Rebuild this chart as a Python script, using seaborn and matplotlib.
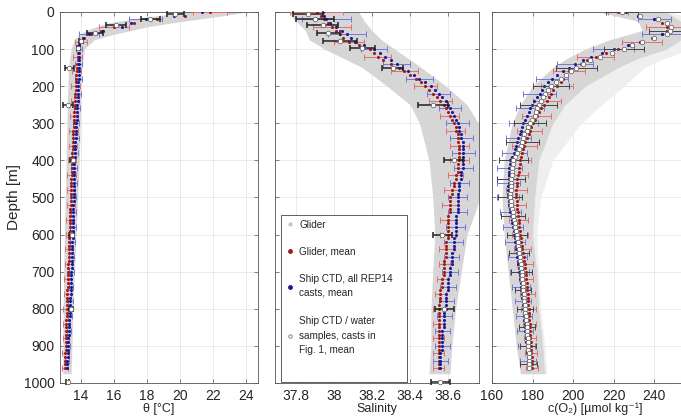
"""
Glider vs ship CTD profiles: potential temperature, salinity and oxygen.
"""

import matplotlib

matplotlib.use("Agg")
import matplotlib.pyplot as plt
import seaborn as sns
from matplotlib.lines import Line2D
from matplotlib.patches import Rectangle
from matplotlib.ticker import FuncFormatter

# ---------------------------------------------------------------- data
# 10 m depth bins of the mean profiles
depth = list(range(0, 970, 10))

temp_glider = [
    21.8, 20.3, 18.6, 17.2, 16.0, 15.2, 14.6, 14.2, 14.0, 13.9, 13.85,
    13.83, 13.81, 13.79, 13.77, 13.76, 13.74, 13.72, 13.71, 13.69, 13.68,
    13.67, 13.66, 13.64, 13.63, 13.62, 13.61, 13.60, 13.58, 13.57, 13.56,
    13.55, 13.54, 13.53, 13.52, 13.51, 13.50, 13.49, 13.48, 13.47, 13.46,
    13.45, 13.44, 13.44, 13.43, 13.42, 13.41, 13.40, 13.40, 13.39, 13.38,
    13.37, 13.37, 13.36, 13.35, 13.35, 13.34, 13.33, 13.33, 13.32, 13.31,
    13.30, 13.29, 13.28, 13.27, 13.27, 13.26, 13.25, 13.24, 13.23, 13.22,
    13.21, 13.20, 13.20, 13.19, 13.18, 13.17, 13.16, 13.16, 13.15, 13.14,
    13.13, 13.13, 13.12, 13.11, 13.11, 13.10, 13.09, 13.09, 13.08, 13.07,
    13.07, 13.06, 13.05, 13.05, 13.04, 13.03,
]
temp_ctd = [
    21.3, 19.6, 17.9, 17.0, 16.5, 15.3, 14.5, 14.1, 13.95, 13.9, 13.88,
    13.88, 13.87, 13.87, 13.86, 13.86, 13.86, 13.85, 13.85, 13.84, 13.84,
    13.83, 13.82, 13.80, 13.79, 13.78, 13.77, 13.76, 13.74, 13.73, 13.72,
    13.71, 13.70, 13.68, 13.67, 13.66, 13.65, 13.64, 13.62, 13.61, 13.60,
    13.60, 13.59, 13.59, 13.58, 13.58, 13.57, 13.57, 13.56, 13.56, 13.55,
    13.55, 13.54, 13.54, 13.53, 13.53, 13.52, 13.52, 13.51, 13.51, 13.50,
    13.49, 13.48, 13.48, 13.47, 13.46, 13.45, 13.44, 13.44, 13.43, 13.42,
    13.41, 13.40, 13.40, 13.39, 13.38, 13.37, 13.36, 13.36, 13.35, 13.34,
    13.33, 13.32, 13.30, 13.29, 13.28, 13.27, 13.26, 13.24, 13.23, 13.22,
    13.21, 13.20, 13.19, 13.18, 13.16, 13.15,
]
temp_glider_sd = [1.0, 0.9, 0.35, 0.28, 0.27, 0.27, 0.26, 0.26, 0.26, 0.25,
                  0.25, 0.25, 0.24, 0.24, 0.24, 0.23, 0.23, 0.22, 0.22, 0.22,
                  0.21, 0.21, 0.2, 0.2, 0.2]
temp_ctd_sd = [1.0, 0.6, 0.2, 0.2, 0.2, 0.19, 0.19, 0.18, 0.18, 0.18, 0.17,
               0.17, 0.16, 0.16, 0.16, 0.15, 0.15, 0.14, 0.14, 0.14, 0.13,
               0.13, 0.12, 0.12]
temp_env_depth = [0, 10, 20, 30, 40, 50, 60, 75, 100, 150, 200, 300, 400,
                  500, 600, 700, 800, 900, 975]
temp_env_lo = [20.4, 18.6, 16.9, 15.6, 14.9, 14.3, 13.9, 13.6, 13.4, 13.25,
               13.2, 13.15, 13.1, 13.05, 13.0, 12.95, 12.92, 12.9, 12.9]
temp_env_hi = [24.0, 22.6, 21.0, 19.4, 18.0, 17.0, 16.0, 14.8, 14.2, 14.05,
               14.0, 13.95, 13.9, 13.8, 13.7, 13.6, 13.5, 13.45, 13.4]

sal_glider = [
    37.91, 37.93, 37.95, 37.97, 37.99, 38.01, 38.03, 38.05, 38.08, 38.13, 38.19,
    38.21, 38.23, 38.26, 38.30, 38.34, 38.37, 38.40, 38.43, 38.46, 38.48,
    38.50, 38.52, 38.54, 38.56, 38.58, 38.59, 38.60, 38.61, 38.62, 38.63,
    38.64, 38.64, 38.65, 38.65, 38.65, 38.66, 38.66, 38.66, 38.66, 38.66,
    38.65, 38.65, 38.65, 38.64, 38.64, 38.63, 38.63, 38.62, 38.62, 38.61,
    38.61, 38.61, 38.61, 38.61, 38.60, 38.60, 38.60, 38.60, 38.60, 38.60,
    38.60, 38.59, 38.59, 38.59, 38.59, 38.59, 38.58, 38.58, 38.58, 38.58,
    38.58, 38.57, 38.57, 38.57, 38.56, 38.56, 38.56, 38.56, 38.55, 38.55,
    38.55, 38.55, 38.55, 38.55, 38.55, 38.55, 38.55, 38.55, 38.55, 38.55,
    38.55, 38.55, 38.55, 38.55, 38.55, 38.55,
]
sal_ctd = [
    37.94, 37.95, 37.96, 37.98, 38.01, 38.04, 38.07, 38.09, 38.11, 38.16, 38.21,
    38.24, 38.27, 38.30, 38.33, 38.36, 38.39, 38.42, 38.45, 38.48, 38.51,
    38.53, 38.55, 38.57, 38.59, 38.60, 38.61, 38.62, 38.63, 38.64, 38.65,
    38.66, 38.66, 38.67, 38.67, 38.68, 38.68, 38.68, 38.68, 38.68, 38.68,
    38.68, 38.68, 38.67, 38.67, 38.67, 38.66, 38.66, 38.66, 38.65, 38.65,
    38.65, 38.65, 38.65, 38.65, 38.64, 38.64, 38.64, 38.64, 38.64, 38.64,
    38.63, 38.63, 38.63, 38.63, 38.62, 38.62, 38.62, 38.62, 38.61, 38.61,
    38.61, 38.60, 38.60, 38.60, 38.60, 38.59, 38.59, 38.59, 38.59, 38.59,
    38.58, 38.58, 38.58, 38.58, 38.58, 38.57, 38.57, 38.57, 38.57, 38.57,
    38.57, 38.56, 38.56, 38.56, 38.56, 38.56,
]
sal_glider_sd = [0.14, 0.10, 0.08, 0.07, 0.07, 0.06, 0.06, 0.05, 0.05, 0.05,
                 0.05, 0.04, 0.04, 0.04, 0.04, 0.04, 0.04, 0.03, 0.03, 0.03,
                 0.03, 0.03, 0.03, 0.03, 0.03]
sal_ctd_sd = [0.13, 0.10, 0.07, 0.07, 0.07, 0.06, 0.06, 0.06, 0.06, 0.06,
              0.05, 0.05, 0.05, 0.05, 0.05, 0.05, 0.04, 0.04, 0.04, 0.04,
              0.04, 0.04, 0.04, 0.04]
sal_env_depth = [0, 25, 50, 75, 100, 150, 200, 250, 300, 400, 500, 600, 700,
                 800, 900, 975]
sal_env_lo = [37.76, 37.80, 37.85, 37.87, 37.95, 38.15, 38.28, 38.40, 38.45,
              38.50, 38.52, 38.53, 38.52, 38.51, 38.51, 38.50]
sal_env_hi = [38.13, 38.16, 38.20, 38.25, 38.32, 38.46, 38.59, 38.70, 38.76,
              38.80, 38.77, 38.70, 38.67, 38.64, 38.62, 38.61]

# ship CTD / water sample casts (Fig. 1)
sample_depth = [5, 18, 34, 56, 78, 98, 150, 250, 400, 600, 800, 998]
temp_sample = [19.7, 18.2, 16.1, 14.85, 14.0, 13.84, 13.3, 13.2, 13.5, 13.45,
               13.4, 13.2]
temp_sample_sd = [0.5, 0.6, 0.6, 0.5, 0.15, 0.1, 0.25, 0.3, 0.15, 0.15, 0.1,
                  0.1]
sal_sample = [37.865, 37.9, 37.94, 37.97, 38.03, 38.15, 38.31, 38.52, 38.63,
              38.57, 38.58, 38.56]
sal_sample_sd = [0.08, 0.1, 0.08, 0.06, 0.09, 0.065, 0.055, 0.08, 0.05, 0.05,
                 0.05, 0.05]

oxy_glider = [
    222, 232, 240, 244, 246, 246, 244, 239, 234, 228, 222,
    216, 211, 207, 204, 201, 198, 196, 195, 194, 192,
    190, 189, 188, 187, 185.5, 184, 183, 182, 181, 180,
    179, 178.5, 178, 177, 176.5, 176, 175.5, 175, 174.5, 174,
    173.7, 173.4, 173.1, 172.8, 172.5, 172.3, 172.1, 172, 172, 172,
    172.1, 172.3, 172.5, 172.7, 172.9, 173.1, 173.3, 173.5, 173.7, 173.8,
    174.1, 174.4, 174.7, 175, 175.3, 175.6, 175.9, 176.1, 176.4, 176.6,
    176.8, 176.9, 177.1, 177.2, 177.3, 177.5, 177.6, 177.7, 177.9, 178,
    178.1, 178.2, 178.4, 178.5, 178.6, 178.7, 178.8, 178.9, 179.1, 179.2,
    179.3, 179.4, 179.5, 179.6, 179.6, 179.7,
]
oxy_ctd = [
    226, 232, 240, 246, 248, 247, 244, 240, 233, 227, 220,
    214, 209, 205, 201, 198, 195, 192, 189.5, 187.5, 185.5,
    184.5, 183.5, 182, 180.5, 179.5, 178.8, 178, 177.3, 176.5, 175.5,
    174.8, 174.2, 173.6, 173, 172.5, 172, 171.5, 171, 170, 169,
    168.8, 168.6, 168.5, 168.4, 168.3, 168.2, 168.1, 168, 168, 168,
    168.2, 168.5, 168.8, 169.1, 169.4, 169.8, 170.1, 170.4, 170.7, 171,
    171.3, 171.5, 171.8, 172, 172.3, 172.5, 172.8, 173, 173.3, 173.5,
    173.7, 173.9, 174.1, 174.3, 174.5, 174.7, 174.9, 175.1, 175.3, 175.5,
    175.7, 175.8, 176, 176.1, 176.3, 176.4, 176.6, 176.7, 176.9, 177,
    177.2, 177.4, 177.5, 177.7, 177.8, 178,
]
oxy_sample = [
    224, 233, 242, 246, 248, 247.5, 246, 240, 234, 229, 225,
    219, 213, 208.5, 205, 201.5, 199, 196.5, 194, 191.5, 189,
    187.5, 186, 185, 184, 183, 182.3, 181.6, 181, 179.8, 178.6,
    177.8, 177, 176, 175.5, 175, 174.5, 173.5, 172.5, 171.5, 170.5,
    170.3, 170.1, 169.9, 169.7, 169.5, 169.4, 169.3, 169.2, 169.1, 169,
    169.3, 169.6, 169.9, 170.2, 170.5, 170.9, 171.2, 171.5, 171.8, 172.2,
    172.4, 172.7, 172.9, 173.1, 173.4, 173.6, 173.9, 174.1, 174.4, 174.6,
    174.8, 174.9, 175.1, 175.3, 175.4, 175.6, 175.8, 175.9, 176.1, 176.3,
    176.5, 176.6, 176.8, 177, 177.1, 177.3, 177.4, 177.6, 177.7, 177.9,
    177.9, 178, 178, 178, 178, 178,
]
oxy_glider_sd = [5, 10, 10, 9, 8, 8, 7, 7, 6, 6, 5, 5, 5, 4.5, 4.5, 4, 4, 4,
                 3.5, 3.5, 3.5, 3, 3, 3, 3]
oxy_ctd_sd = [8, 10, 10, 9, 8, 8, 7, 7, 6, 6, 6, 5.5, 5.5, 5, 5, 5, 4.5, 4.5,
              4.5, 4, 4, 4, 4, 4]
oxy_sample_sd = [8, 10, 10, 10, 9, 9, 8, 8, 7, 7, 6, 6, 5, 5, 5, 4, 4, 4, 4, 4]
oxy_env_depth = [0, 25, 50, 75, 100, 125, 150, 200, 250, 300, 400, 500, 600,
                 700, 800, 900, 975]
oxy_env_lo = [213, 232, 234, 218, 206, 197, 190, 180, 174, 170, 166, 165, 166,
              168, 170, 172, 174]
oxy_env_hi = [246, 253, 253, 253, 246, 232, 222, 206, 196, 190, 183, 181, 180,
              182, 183, 185, 186]
oxy_env_hi_outer = [248, 262, 262, 262, 258, 245, 235, 225, 214, 204, 190, 184,
                    182, 183, 184, 186, 187]

# ---------------------------------------------------------------- style
RED = "#a31a1a"
BLUE = "#1a1a9c"
RED_ERR = "#e07070"
BLUE_ERR = "#7777d8"
ENV = "#d6d6d6"

sns.set_theme(style="whitegrid")
plt.rcParams["font.family"] = ["Liberation Sans", "DejaVu Sans"]

W, H = 681, 416
fig = plt.figure(figsize=(W / 100, H / 100), dpi=100)
ax_t = fig.add_axes([60 / W, 33 / H, 198 / W, 371 / H])
ax_s = fig.add_axes([275 / W, 33 / H, 204 / W, 371 / H])
ax_o = fig.add_axes([492 / W, 33 / H, 206 / W, 371 / H])


def mean_profiles(ax, glider, ctd, glider_sd, ctd_sd):
    """Glider and ship CTD mean profiles with std bars."""
    ax.errorbar(glider[::4], depth[::4], xerr=glider_sd, fmt="none",
                ecolor=RED_ERR, elinewidth=0.7, capsize=2, capthick=0.7,
                zorder=3)
    ax.errorbar(ctd[2::4], depth[2::4], xerr=ctd_sd, fmt="none",
                ecolor=BLUE_ERR, elinewidth=0.7, capsize=2, capthick=0.7,
                zorder=3)
    sns.scatterplot(x=glider, y=depth, ax=ax, color=RED, s=5, linewidth=0,
                    zorder=4, legend=False)
    sns.scatterplot(x=ctd, y=depth, ax=ax, color=BLUE, s=5, linewidth=0,
                    zorder=5, legend=False)


def samples(ax, values, dep, sd):
    ax.errorbar(values, dep, xerr=sd, fmt="none", ecolor="#222222",
                elinewidth=1.1, capsize=2.2, capthick=1.1, zorder=6,
                clip_on=False)
    ax.scatter(values, dep, s=11, facecolor="white", edgecolor="#555555",
               linewidth=0.5, zorder=7, clip_on=False)


def style_axis(ax, xlim, xticks, xlabel):
    ax.set_xlim(*xlim)
    ax.set_ylim(1000, 0)
    ax.set_xticks(xticks)
    ax.set_yticks(range(0, 1001, 100))
    ax.xaxis.set_major_formatter(FuncFormatter(lambda v, p: f"{v:g}"))
    ax.set_axisbelow(True)
    ax.grid(True, color="#e6e6e6", linewidth=0.6)
    for sp in ax.spines.values():
        sp.set_color("#555555")
        sp.set_linewidth(0.6)
    ax.tick_params(direction="in", length=3, width=0.5, color="#555555",
                   labelsize=10, labelcolor="#262626", pad=4,
                   top=True, right=True, bottom=True, left=True)
    ax.set_xlabel(xlabel, fontsize=9, color="#262626", va="bottom")
    ax.xaxis.set_label_coords(0.5, -32 / 371)
    ax.set_ylabel("")


# temperature
ax_t.fill_betweenx(temp_env_depth, temp_env_lo, temp_env_hi, color=ENV,
                   linewidth=0, zorder=1)
mean_profiles(ax_t, temp_glider, temp_ctd, temp_glider_sd, temp_ctd_sd)
samples(ax_t, temp_sample, sample_depth, temp_sample_sd)
style_axis(ax_t, (12.73, 24.7), [14, 16, 18, 20, 22, 24], "θ [°C]")
ax_t.set_ylabel("Depth [m]", fontsize=11, color="#262626")
ax_t.yaxis.set_label_coords(-0.197, 0.5)

# salinity
ax_s.fill_betweenx(sal_env_depth, sal_env_lo, sal_env_hi, color=ENV,
                   linewidth=0, zorder=1)
mean_profiles(ax_s, sal_glider, sal_ctd, sal_glider_sd, sal_ctd_sd)
samples(ax_s, sal_sample, sample_depth, sal_sample_sd)
style_axis(ax_s, (37.69, 38.763), [37.8, 38.0, 38.2, 38.4, 38.6], "Salinity")
ax_s.tick_params(labelleft=False)

# oxygen
ax_o.fill_betweenx(oxy_env_depth, oxy_env_lo, oxy_env_hi_outer,
                   color="#efefef", linewidth=0, zorder=1)
ax_o.fill_betweenx(oxy_env_depth, oxy_env_lo, oxy_env_hi, color=ENV,
                   linewidth=0, zorder=1)
mean_profiles(ax_o, oxy_glider, oxy_ctd, oxy_glider_sd, oxy_ctd_sd)
ax_o.errorbar(oxy_sample[::5], depth[::5], xerr=oxy_sample_sd, fmt="none",
              ecolor="#444444", elinewidth=0.7, capsize=2, capthick=0.7,
              zorder=6)
ax_o.scatter(oxy_sample, depth, s=11, facecolor="white", edgecolor="#555555",
             linewidth=0.5, zorder=7)
style_axis(ax_o, (160, 261.5), [160, 180, 200, 220, 240],
           "c(O₂) [µmol kg⁻¹]")
ax_o.tick_params(labelleft=False)

# legend (frame drawn separately, MATLAB-style padding)
ax_s.add_patch(Rectangle((6 / 204, 1 / 371), 126 / 204, 167 / 371,
                         transform=ax_s.transAxes, facecolor="white",
                         edgecolor="#444444", linewidth=0.6, zorder=8))
handles = [
    Line2D([], [], ls="", marker="o", ms=2, color="#c4c4c4"),
    Line2D([], [], ls="", marker="o", ms=2.5, color=RED),
    Line2D([], [], ls="", marker="o", ms=2.5, color=BLUE),
    Line2D([], [], ls="", marker="o", ms=2.5, mfc="white", mec="#555555",
           mew=0.5),
]
labels = [
    "Glider",
    "Glider, mean",
    "Ship CTD, all REP14\ncasts, mean",
    "Ship CTD / water\nsamples, casts in\nFig. 1, mean",
]
leg = ax_s.legend(handles, labels, loc="upper left",
                  bbox_to_anchor=(6 / 204, 168 / 371), frameon=False,
                  fontsize=7.2, borderpad=0.5, handlelength=0.8,
                  handletextpad=0.5, labelspacing=1.7, borderaxespad=0)
leg.set_zorder(9)
for t in leg.get_texts():
    t.set_linespacing(1.6)
    t.set_color("#262626")

fig.savefig("out.png", dpi=100)
plt.close(fig)
